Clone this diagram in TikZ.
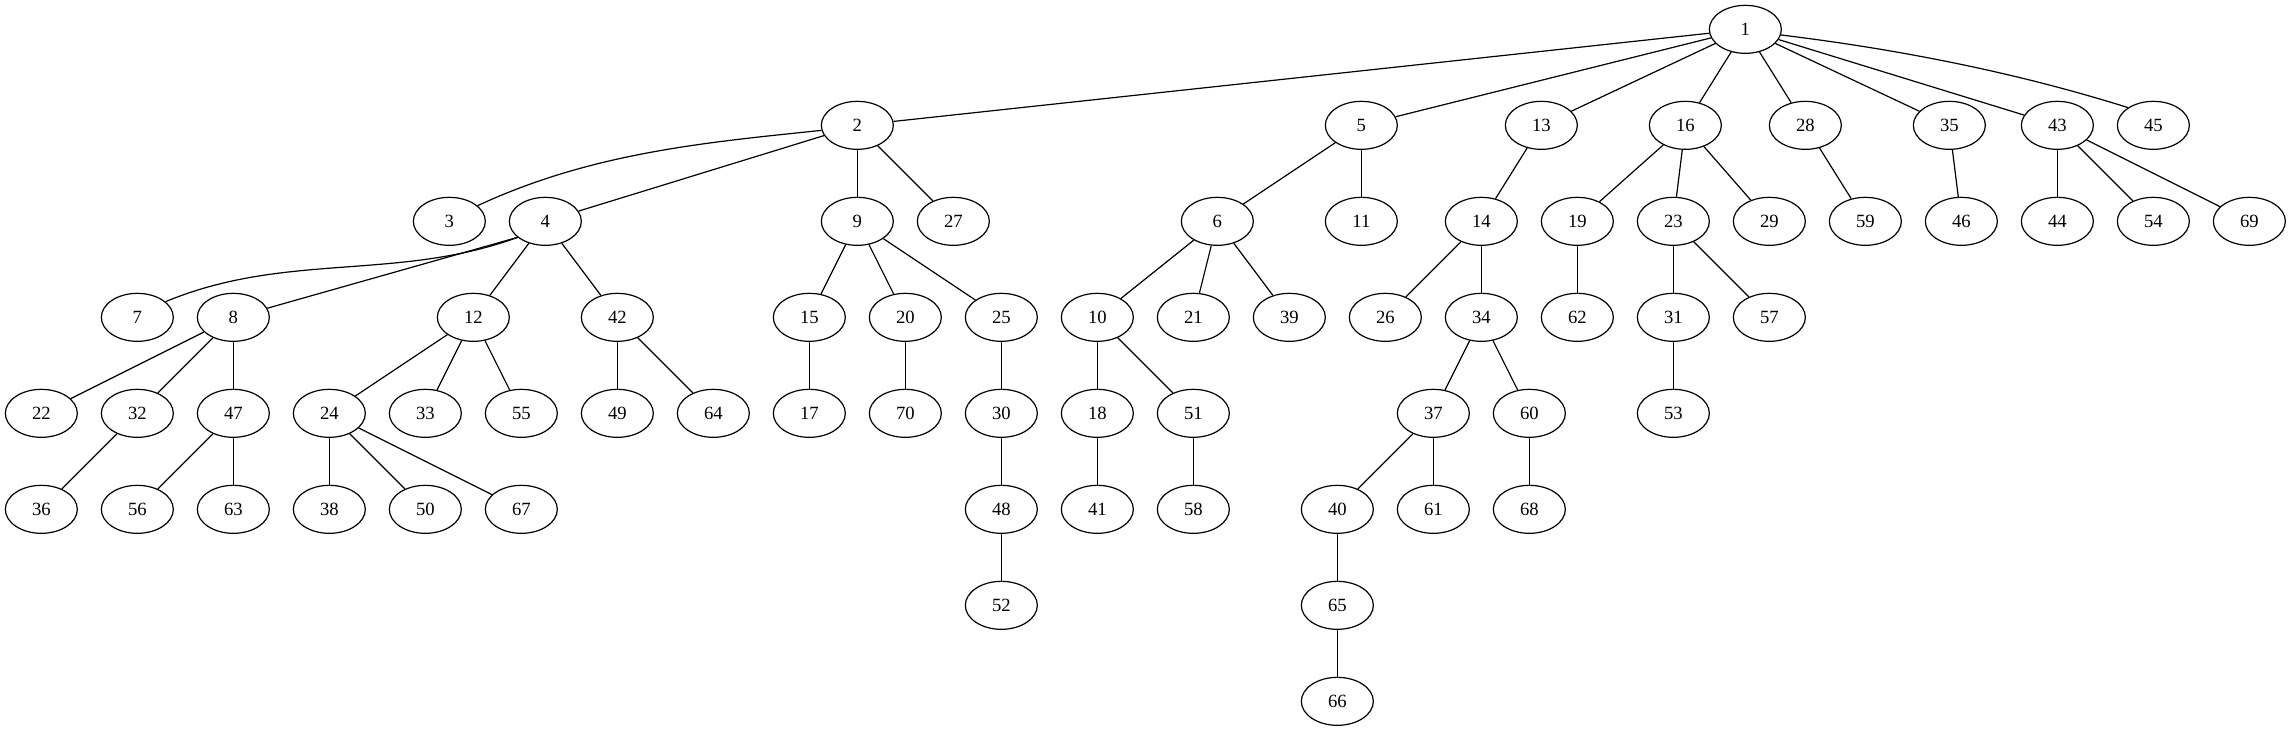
\documentclass[tikz,border=0pt]{standalone}
\usepackage{fontspec}
\setmainfont{Liberation Serif}
\usetikzlibrary{shapes.geometric}
\begin{document}
\begin{tikzpicture}[x=1pt,y=-1pt,
  nd/.style={draw, ellipse, minimum width=54pt, minimum height=36pt, inner sep=0pt, line width=0.9pt, font=\fontsize{14pt}{16pt}\selectfont},
  ed/.style={line width=0.9pt}]
\useasboundingbox (0,0) rectangle (1718.25,548.25);
% row 0
\node[nd] (n1) at (1309,22) {1};
% row 1
\node[nd] (n2) at (643,94) {2};
\node[nd] (n5) at (1021,94) {5};
\node[nd] (n13) at (1156,94) {13};
\node[nd] (n16) at (1264,94) {16};
\node[nd] (n28) at (1354,94) {28};
\node[nd] (n35) at (1462,94) {35};
\node[nd] (n43) at (1543,94) {43};
\node[nd] (n45) at (1615,94) {45};
% row 2
\node[nd] (n3) at (337,166) {3};
\node[nd] (n4) at (409,166) {4};
\node[nd] (n9) at (643,166) {9};
\node[nd] (n27) at (715,166) {27};
\node[nd] (n6) at (913,166) {6};
\node[nd] (n11) at (1021,166) {11};
\node[nd] (n14) at (1111,166) {14};
\node[nd] (n19) at (1183,166) {19};
\node[nd] (n23) at (1255,166) {23};
\node[nd] (n29) at (1327,166) {29};
\node[nd] (n59) at (1399,166) {59};
\node[nd] (n46) at (1471,166) {46};
\node[nd] (n44) at (1543,166) {44};
\node[nd] (n54) at (1615,166) {54};
\node[nd] (n69) at (1687,166) {69};
% row 3
\node[nd] (n7) at (103,238) {7};
\node[nd] (n8) at (175,238) {8};
\node[nd] (n12) at (355,238) {12};
\node[nd] (n42) at (463,238) {42};
\node[nd] (n15) at (607,238) {15};
\node[nd] (n20) at (679,238) {20};
\node[nd] (n25) at (751,238) {25};
\node[nd] (n10) at (823,238) {10};
\node[nd] (n21) at (895,238) {21};
\node[nd] (n39) at (967,238) {39};
\node[nd] (n26) at (1039,238) {26};
\node[nd] (n34) at (1111,238) {34};
\node[nd] (n62) at (1183,238) {62};
\node[nd] (n31) at (1255,238) {31};
\node[nd] (n57) at (1327,238) {57};
% row 4
\node[nd] (n22) at (31,310) {22};
\node[nd] (n32) at (103,310) {32};
\node[nd] (n47) at (175,310) {47};
\node[nd] (n24) at (247,310) {24};
\node[nd] (n33) at (319,310) {33};
\node[nd] (n55) at (391,310) {55};
\node[nd] (n49) at (463,310) {49};
\node[nd] (n64) at (535,310) {64};
\node[nd] (n17) at (607,310) {17};
\node[nd] (n70) at (679,310) {70};
\node[nd] (n30) at (751,310) {30};
\node[nd] (n18) at (823,310) {18};
\node[nd] (n51) at (895,310) {51};
\node[nd] (n37) at (1075,310) {37};
\node[nd] (n60) at (1147,310) {60};
\node[nd] (n53) at (1255,310) {53};
% row 5
\node[nd] (n36) at (31,382) {36};
\node[nd] (n56) at (103,382) {56};
\node[nd] (n63) at (175,382) {63};
\node[nd] (n38) at (247,382) {38};
\node[nd] (n50) at (319,382) {50};
\node[nd] (n67) at (391,382) {67};
\node[nd] (n48) at (751,382) {48};
\node[nd] (n41) at (823,382) {41};
\node[nd] (n58) at (895,382) {58};
\node[nd] (n40) at (1003,382) {40};
\node[nd] (n61) at (1075,382) {61};
\node[nd] (n68) at (1147,382) {68};
% row 6
\node[nd] (n52) at (751,454) {52};
\node[nd] (n65) at (1003,454) {65};
% row 7
\node[nd] (n66) at (1003,526) {66};

% edges
\draw[ed] (n1) -- (n2);
\draw[ed] (n1) -- (n5);
\draw[ed] (n1) -- (n13);
\draw[ed] (n1) -- (n16);
\draw[ed] (n1) -- (n28);
\draw[ed] (n1) -- (n35);
\draw[ed] (n1) -- (n43);
\draw[ed] (n1.-9) .. controls +(86,10.5) and +(-86,-27) .. (n45.145);
\draw[ed] (n2.188) .. controls +(-86,9) and +(86,-40) .. (n3.29);
\draw[ed] (n2) -- (n4);
\draw[ed] (n2) -- (n9);
\draw[ed] (n2) -- (n27);
\draw[ed] (n4.210) .. controls +(-90,33) and +(90,-37.5) .. (n7.29);
\draw[ed] (n4.210) -- (n8.15);
\draw[ed] (n4) -- (n12);
\draw[ed] (n4) -- (n42);
\draw[ed] (n8) -- (n22);
\draw[ed] (n8) -- (n32);
\draw[ed] (n8) -- (n47);
\draw[ed] (n32) -- (n36);
\draw[ed] (n47) -- (n56);
\draw[ed] (n47) -- (n63);
\draw[ed] (n12) -- (n24);
\draw[ed] (n12) -- (n33);
\draw[ed] (n12) -- (n55);
\draw[ed] (n24) -- (n38);
\draw[ed] (n24) -- (n50);
\draw[ed] (n24) -- (n67);
\draw[ed] (n42) -- (n49);
\draw[ed] (n42) -- (n64);
\draw[ed] (n9) -- (n15);
\draw[ed] (n9) -- (n20);
\draw[ed] (n9) -- (n25);
\draw[ed] (n15) -- (n17);
\draw[ed] (n20) -- (n70);
\draw[ed] (n25) -- (n30);
\draw[ed] (n30) -- (n48);
\draw[ed] (n48) -- (n52);
\draw[ed] (n5) -- (n6);
\draw[ed] (n5) -- (n11);
\draw[ed] (n6) -- (n10);
\draw[ed] (n6) -- (n21);
\draw[ed] (n6) -- (n39);
\draw[ed] (n10) -- (n18);
\draw[ed] (n10) -- (n51);
\draw[ed] (n18) -- (n41);
\draw[ed] (n51) -- (n58);
\draw[ed] (n13) -- (n14);
\draw[ed] (n14) -- (n26);
\draw[ed] (n14) -- (n34);
\draw[ed] (n34) -- (n37);
\draw[ed] (n34) -- (n60);
\draw[ed] (n37) -- (n40);
\draw[ed] (n37) -- (n61);
\draw[ed] (n40) -- (n65);
\draw[ed] (n65) -- (n66);
\draw[ed] (n60) -- (n68);
\draw[ed] (n16) -- (n19);
\draw[ed] (n16) -- (n23);
\draw[ed] (n16) -- (n29);
\draw[ed] (n19) -- (n62);
\draw[ed] (n23) -- (n31);
\draw[ed] (n23) -- (n57);
\draw[ed] (n31) -- (n53);
\draw[ed] (n28) -- (n59);
\draw[ed] (n35) -- (n46);
\draw[ed] (n43) -- (n44);
\draw[ed] (n43) -- (n54);
\draw[ed] (n43) -- (n69);
\end{tikzpicture}
\end{document}
